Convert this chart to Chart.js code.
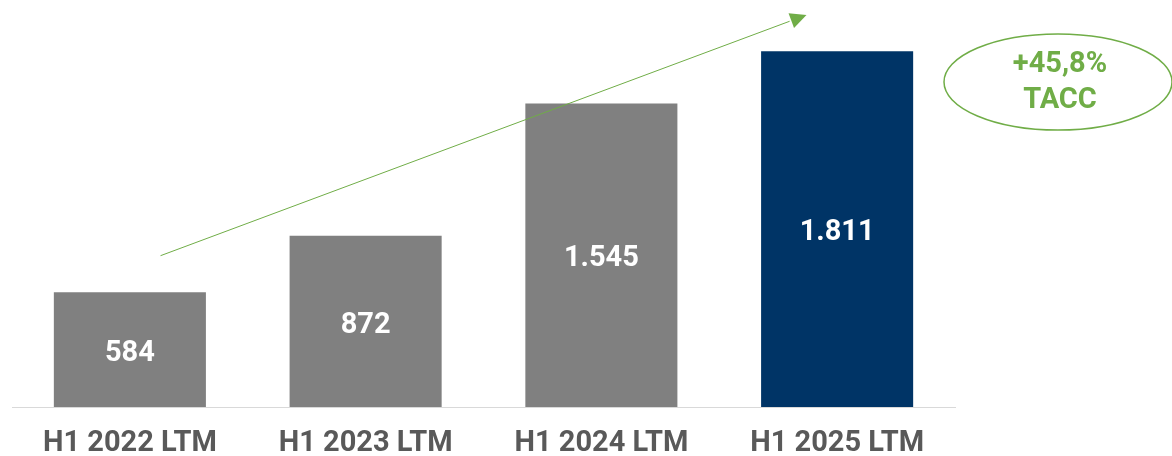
<!DOCTYPE html>
<html>
<head>
<meta charset="utf-8">
<script src="https://cdn.jsdelivr.net/npm/chart.js@4/dist/chart.umd.min.js"></script>
<style>
  html, body { margin: 0; padding: 0; background: #fff; }
  #chart { display: block; }
</style>
</head>
<body>
<canvas id="chart" width="1172" height="456"></canvas>
<script>
const categories = ['H1 2022 LTM', 'H1 2023 LTM', 'H1 2024 LTM', 'H1 2025 LTM'];
const values = [584, 872, 1545, 1811];
const growthText = ['+45,8%', 'TACC'];

const GRAY = '#808080';
const NAVY = '#003466';
const GREEN = '#70AD47';
const barColors = values.map((v, i) => i === values.length - 1 ? NAVY : GRAY);

// numbers like 1.545 (dot as thousands separator)
function fmt(v) {
    return v.toString().replace(/\B(?=(\d{3})+(?!\d))/g, '.');
}

// value labels centred in each bar
const barLabels = {
    id: 'barLabels',
    afterDatasetsDraw(chart) {
        const ctx = chart.ctx;
        const meta = chart.getDatasetMeta(0);
        ctx.save();
        ctx.fillStyle = '#ffffff';
        ctx.font = 'bold 29px Roboto';
        ctx.textAlign = 'center';
        ctx.textBaseline = 'middle';
        meta.data.forEach((bar, i) => {
            const mid = (bar.y + bar.base) / 2 + 4;
            ctx.fillText(fmt(values[i]), bar.x, mid);
        });
        ctx.restore();
    }
};

// trend arrow + growth bubble
const trendArrow = {
    id: 'trendArrow',
    afterDraw(chart) {
        const ctx = chart.ctx;
        const xs = chart.scales.x;
        const ys = chart.scales.y;
        const x0 = xs.getPixelForValue(0.13), y0 = ys.getPixelForValue(770);
        const x1 = xs.getPixelForValue(2.87), y1 = ys.getPixelForValue(1995);
        const ang = Math.atan2(y1 - y0, x1 - x0);
        const head = 18;

        ctx.save();
        ctx.strokeStyle = GREEN;
        ctx.fillStyle = GREEN;
        ctx.lineWidth = 1;
        ctx.beginPath();
        ctx.moveTo(x0, y0);
        ctx.lineTo(x1 - head * Math.cos(ang), y1 - head * Math.sin(ang));
        ctx.stroke();

        ctx.beginPath();
        ctx.moveTo(x1, y1);
        ctx.lineTo(x1 - head * Math.cos(ang - 0.45), y1 - head * Math.sin(ang - 0.45));
        ctx.lineTo(x1 - head * Math.cos(ang + 0.45), y1 - head * Math.sin(ang + 0.45));
        ctx.closePath();
        ctx.fill();

        // bubble to the right of the plot
        const cx = chart.chartArea.right + 103;
        const cy = 82;
        ctx.lineWidth = 1.5;
        ctx.beginPath();
        ctx.ellipse(cx, cy, 114, 48, 0, 0, Math.PI * 2);
        ctx.stroke();

        ctx.font = 'bold 29px Roboto';
        ctx.textAlign = 'center';
        ctx.textBaseline = 'middle';
        ctx.fillText(growthText[0], cx + 2, cy - 17);
        ctx.fillText(growthText[1], cx + 2, cy + 19);
        ctx.restore();
    }
};

new Chart(document.getElementById('chart'), {
    type: 'bar',
    data: {
        labels: categories,
        datasets: [{
            data: values,
            backgroundColor: barColors,
            categoryPercentage: 1,
            barPercentage: 0.645
        }]
    },
    options: {
        responsive: false,
        devicePixelRatio: 1,
        animation: false,
        layout: { padding: { left: 12, right: 217, top: 14, bottom: 0 } },
        plugins: {
            legend: { display: false },
            tooltip: { enabled: false }
        },
        scales: {
            x: {
                grid: { display: false, drawTicks: false },
                border: { display: true, color: '#D9D9D9', width: 1 },
                ticks: {
                    color: '#595959',
                    font: { family: 'Roboto', size: 29, weight: 'bold' },
                    padding: 19,
                    maxRotation: 0
                },
                afterFit(scale) {
                    scale.height = 49;
                }
            },
            y: {
                display: false,
                min: 0,
                max: 2000
            }
        }
    },
    plugins: [barLabels, trendArrow]
});
</script>
</body>
</html>
